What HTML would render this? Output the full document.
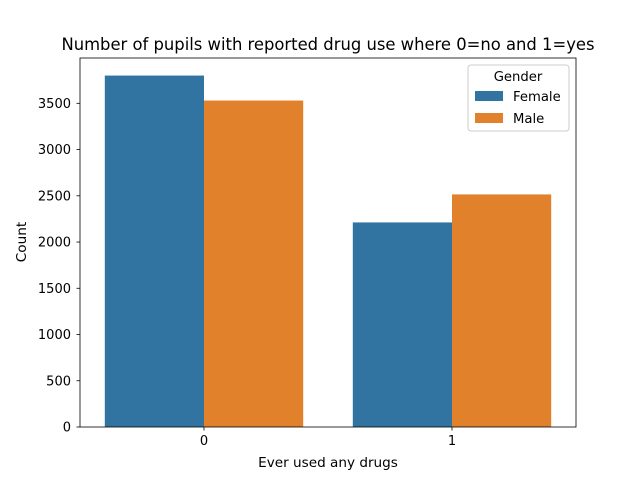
<!DOCTYPE html>
<html><head><meta charset="utf-8"><style>
body{margin:0;background:#fff;}
text{font-family:"DejaVu Sans","Liberation Sans",sans-serif;}
</style></head><body>
<svg width="640" height="480" xmlns="http://www.w3.org/2000/svg">
<rect width="640" height="480" fill="#fff"/>
<g id="bars"></g>
<g id="yticks"></g>
<g id="xticks"></g>
<rect x="80" y="58" width="496" height="369" fill="none" stroke="#000" stroke-width="0.8"/>
<text x="328" y="50" text-anchor="middle" font-size="16.4">Number of pupils with reported drug use where 0=no and 1=yes</text>
<text x="328" y="467" text-anchor="middle" font-size="13.6">Ever used any drugs</text>
<text transform="translate(26,242) rotate(-90)" text-anchor="middle" font-size="13.6">Count</text>
<g>
<rect x="468" y="65" width="101" height="66" rx="3" fill="#fff" fill-opacity="0.8" stroke="#ccc"/>
<text x="518" y="81" text-anchor="middle" font-size="13.2">Gender</text>
<rect x="475" y="91" width="28" height="10" fill="#3274a1"/>
<text x="513" y="101" font-size="13.2">Female</text>
<rect x="475" y="113" width="28" height="10" fill="#e1812c"/>
<text x="513" y="123" font-size="13.2">Male</text>
</g>
</svg>
<script>
const categories=["0","1"];
const female=[3800,2212];
const male=[3530,2515];
const yTicks=[0,500,1000,1500,2000,2500,3000,3500];
const NS="http://www.w3.org/2000/svg";
const x0=80,x1=576,y0=427,y1=58,yMax=3990;
function xs(i){return x0+(i+0.5)*(x1-x0)/categories.length;}
function ys(v){return y0-v/yMax*(y0-y1);}
const bw=0.4*(x1-x0)/categories.length;
const gb=document.getElementById("bars");
function bar(cx,v,color,name){
 const r=document.createElementNS(NS,"rect");
 r.setAttribute("x",cx);r.setAttribute("y",ys(v));r.setAttribute("width",bw);r.setAttribute("height",y0-ys(v));r.setAttribute("fill",color);
 
 
 gb.appendChild(r);
}
categories.forEach((c,i)=>{
 bar(xs(i)-bw,female[i],"#3274a1","bar-female-"+c);
 bar(xs(i),male[i],"#e1812c","bar-male-"+c);
});
const gy=document.getElementById("yticks");
yTicks.forEach(t=>{
 const y=ys(t);
 const l=document.createElementNS(NS,"line");
 l.setAttribute("x1",x0-3.5);l.setAttribute("x2",x0);l.setAttribute("y1",y);l.setAttribute("y2",y);l.setAttribute("stroke","#000");l.setAttribute("stroke-width","0.8");
 
 
 gy.appendChild(l);
 const tx=document.createElementNS(NS,"text");
 tx.setAttribute("x",x0-9);tx.setAttribute("y",y+4.5);tx.setAttribute("text-anchor","end");tx.setAttribute("font-size","13");
 tx.textContent=t;
 
 
 gy.appendChild(tx);
});
const gx=document.getElementById("xticks");
categories.forEach((c,i)=>{
 const x=xs(i);
 const l=document.createElementNS(NS,"line");
 l.setAttribute("x1",x);l.setAttribute("x2",x);l.setAttribute("y1",y0);l.setAttribute("y2",y0+3.5);l.setAttribute("stroke","#000");l.setAttribute("stroke-width","0.8");
 
 
 gx.appendChild(l);
 const tx=document.createElementNS(NS,"text");
 tx.setAttribute("x",x);tx.setAttribute("y",y0+18);tx.setAttribute("text-anchor","middle");tx.setAttribute("font-size","13");
 tx.textContent=c;
 
 
 gx.appendChild(tx);
});
</script>
</body></html>
